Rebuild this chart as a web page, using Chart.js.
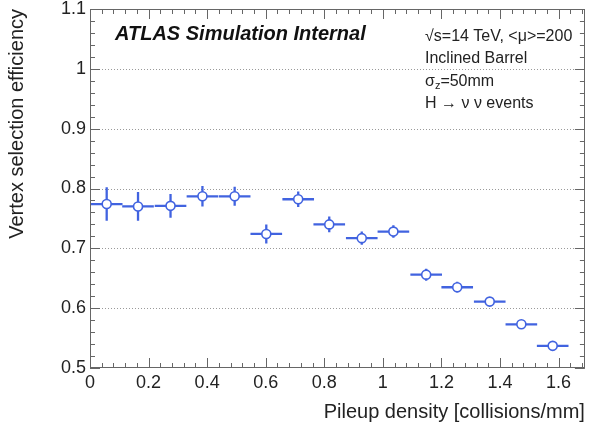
<!DOCTYPE html>
<html><head><meta charset="utf-8">
<script src="https://cdn.jsdelivr.net/npm/chart.js@4/dist/chart.umd.min.js"></script>
<style>html,body{margin:0;padding:0;background:#fff;} #wrap{width:591px;height:432px;}</style>
</head><body><div id="wrap"><canvas id="c" width="591" height="432"></canvas></div>
<script>
// ---- data ----
const pileupDensity = [0.057,0.164,0.275,0.384,0.494,0.602,0.711,0.817,0.928,1.036,1.148,1.254,1.365,1.473,1.580];
const efficiency    = [0.774,0.770,0.771,0.787,0.787,0.724,0.782,0.740,0.717,0.728,0.656,0.635,0.611,0.573,0.537];
const efficiencyErr = [0.028,0.024,0.020,0.017,0.016,0.016,0.013,0.013,0.011,0.0105,0.010,0.009,0.007,0.006,0.005];
const binHalfWidth  = [0.054,0.054,0.054,0.054,0.054,0.054,0.054,0.054,0.054,0.054,0.054,0.054,0.054,0.054,0.054];
const xTickValues = [0,0.2,0.4,0.6,0.8,1,1.2,1.4,1.6];
const yTickValues = [0.5,0.6,0.7,0.8,0.9,1,1.1];
const yGridLines = [0.6,0.7,0.8,0.9,1.0];
const xRange = [0, 1.69];
const yRange = [0.5, 1.1];
const textAtlas = "ATLAS Simulation Internal";
const textLines = ["\u221As=14 TeV, <\u03BC>=200", "Inclined Barrel", null, "H \u2192 \u03BD \u03BD events"];
const xTitle = "Pileup density [collisions/mm]";
const yTitle = "Vertex selection efficiency";

const BLUE = '#4163e0';
const FONT = '"Liberation Sans", Arial, Helvetica, sans-serif';

const points = pileupDensity.map((x,i)=>({x:x, y:efficiency[i]}));

const decorPlugin = {
  id:'decor',
  beforeDatasetsDraw(chart){
    const ctx = chart.ctx, xs = chart.scales.x, ys = chart.scales.y, a = chart.chartArea;
    ctx.save();
    ctx.strokeStyle = '#9a9a9a'; ctx.lineWidth = 1; ctx.setLineDash([1,2]);
    yGridLines.forEach(v=>{
      const py = Math.round(ys.getPixelForValue(v))+0.5;
      ctx.beginPath(); ctx.moveTo(a.left, py); ctx.lineTo(a.right, py); ctx.stroke();
    });
    ctx.setLineDash([]);
    ctx.strokeStyle = BLUE; ctx.lineWidth = 2.3;
    pileupDensity.forEach((x,i)=>{
      const px = xs.getPixelForValue(x), py = ys.getPixelForValue(efficiency[i]);
      const x0 = xs.getPixelForValue(x-binHalfWidth[i]), x1 = xs.getPixelForValue(x+binHalfWidth[i]);
      const y0 = ys.getPixelForValue(efficiency[i]-efficiencyErr[i]), y1 = ys.getPixelForValue(efficiency[i]+efficiencyErr[i]);
      ctx.beginPath();
      ctx.moveTo(x0, py); ctx.lineTo(x1, py);
      ctx.moveTo(px, y0); ctx.lineTo(px, y1);
      ctx.stroke();
    });
    ctx.restore();
  },
  afterDraw(chart){
    const ctx = chart.ctx, xs = chart.scales.x, ys = chart.scales.y, a = chart.chartArea;
    ctx.save();
    ctx.strokeStyle = '#666'; ctx.lineWidth = 1;
    ctx.strokeRect(Math.round(a.left)+0.5, Math.round(a.top)+0.5, Math.round(a.right-a.left)-1, Math.round(a.bottom-a.top)-1);
    ctx.beginPath();
    for (let k=0; k<=Math.round((xRange[1]-xRange[0])/0.04); k++){
      const v = xRange[0] + k*0.04;
      if (v > xRange[1]+1e-9) break;
      const major = xTickValues.some(t=>Math.abs(t-v)<1e-6);
      const len = major ? 10 : 5;
      const px = Math.round(xs.getPixelForValue(v))+0.5;
      ctx.moveTo(px, a.bottom); ctx.lineTo(px, a.bottom-len);
      ctx.moveTo(px, a.top); ctx.lineTo(px, a.top+len);
    }
    for (let k=0; k<=Math.round((yRange[1]-yRange[0])/0.02); k++){
      const v = yRange[0] + k*0.02;
      const major = yTickValues.some(t=>Math.abs(t-v)<1e-6);
      const len = major ? 10 : 5;
      const py = Math.round(ys.getPixelForValue(v))+0.5;
      ctx.moveTo(a.left, py); ctx.lineTo(a.left+len, py);
      ctx.moveTo(a.right, py); ctx.lineTo(a.right-len, py);
    }
    ctx.stroke();
    ctx.fillStyle = '#111';
    ctx.textBaseline = 'alphabetic'; ctx.textAlign = 'left';
    ctx.font = 'bold italic 20px ' + FONT;
    ctx.fillText(textAtlas, 115, 40);
    ctx.fillStyle = '#222';
    ctx.font = '16px ' + FONT;
    const bl = [41, 63, 85.5, 107.5];
    textLines.forEach((t,i)=>{
      if (t !== null) { ctx.fillText(t, 425, bl[i]); }
    });
    let x = 425;
    ctx.font = '16px ' + FONT;
    ctx.fillText('\u03C3', x, bl[2]); x += ctx.measureText('\u03C3').width;
    ctx.font = '11px ' + FONT;
    ctx.fillText('z', x, bl[2]+3); x += ctx.measureText('z').width;
    ctx.font = '16px ' + FONT;
    ctx.fillText('=50mm', x, bl[2]);
    ctx.restore();
  }
};

new Chart(document.getElementById('c'), {
  type:'scatter',
  data:{ datasets:[{
    data: points,
    pointRadius: 4.5, pointHoverRadius: 4.5,
    pointBackgroundColor:'#fff', pointBorderColor: BLUE, pointBorderWidth: 1.6,
    showLine:false
  }]},
  options:{
    responsive:false, animation:false, devicePixelRatio:1,
    layout:{ padding:{ left:0, right:4, top:9, bottom:0 } },
    plugins:{ legend:{display:false}, tooltip:{enabled:false} },
    scales:{
      x:{
        type:'linear', min:xRange[0], max:xRange[1],
        afterBuildTicks(s){ s.ticks = xTickValues.map(v=>({value:v})); },
        afterFit(s){ s.height = 64; s.paddingLeft = 0; s.paddingRight = 0; },
        grid:{ display:false, drawTicks:false },
        border:{ display:false },
        ticks:{ color:'#222', font:{ family:FONT, size:18 }, padding:4, maxRotation:0, autoSkip:false,
          callback:(v)=>String(Math.round(v*10)/10) },
        title:{ display:true, text:xTitle, align:'end', color:'#222', font:{ family:FONT, size:20 }, padding:{top:0, bottom:8} }
      },
      y:{
        type:'linear', min:yRange[0], max:yRange[1],
        afterBuildTicks(s){ s.ticks = yTickValues.map(v=>({value:v})); },
        afterFit(s){ s.width = 90; s.paddingTop = 0; s.paddingBottom = 0; },
        grid:{ display:false, drawTicks:false },
        border:{ display:false },
        ticks:{ color:'#222', font:{ family:FONT, size:18 }, padding:4, autoSkip:false,
          callback:(v)=>String(Math.round(v*10)/10) },
        title:{ display:true, text:yTitle, align:'end', color:'#222', font:{ family:FONT, size:20 }, padding:{top:5, bottom:0} }
      }
    }
  },
  plugins:[decorPlugin]
});
</script>
</body></html>
